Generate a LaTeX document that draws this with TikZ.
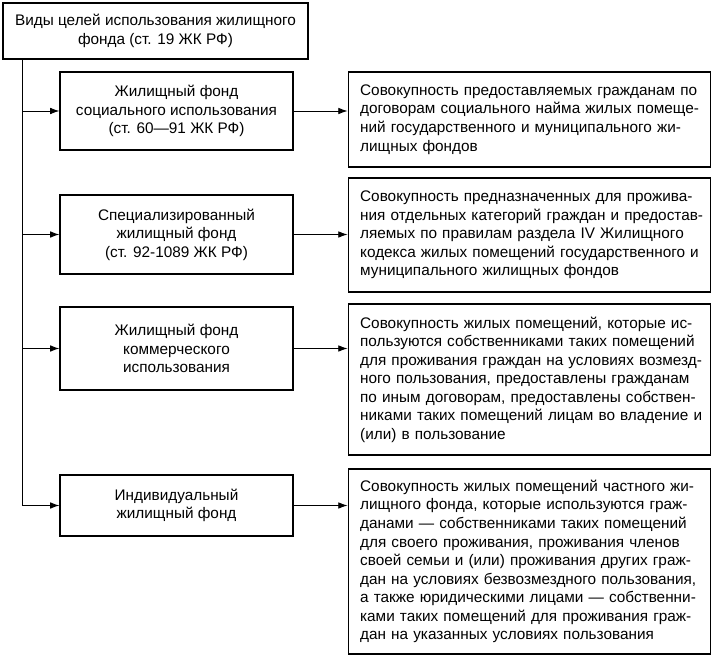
\documentclass[tikz,border=0pt]{standalone}
\usepackage{fontspec}
\setmainfont{Liberation Sans}
\usetikzlibrary{arrows.meta}

\newlength{\dwidth}
\setlength{\dwidth}{254pt}
\newcommand{\jline}[1]{\hbox to \dwidth{#1}}
\newcommand{\eline}[1]{\hbox{#1}}

\begin{document}
\begin{tikzpicture}[x=0.75pt, y=-0.75pt]
			\tikzset {>={Latex[length=7pt,width=5pt]}, every node/.style={font=\fontsize{11.5pt}{13.9pt}\selectfont},
				kind/.style={draw, line width=0.85pt, align=center, inner sep=2pt, minimum width=174.75pt},
				descr/.style={draw, line width=0.85pt, text width=\dwidth, inner xsep=9pt, inner ysep=2pt},
				link/.style={->, line width=0.7pt} }

			\useasboundingbox (0,0) rectangle (715,659);

			\node[kind, minimum width=228.75pt, minimum height=42pt] (root) at (155.5,31) {Виды целей использования жилищного\\фонда (ст. 19 ЖК РФ)};

			\node[kind, minimum height=58.5pt] (social) at (176.5,111) {Жилищный фонд\\социального использования\\(ст. 60—91 ЖК РФ)};
			\node[kind, minimum height=59.25pt] (special) at (176.5,234.5) {Специализированный\\жилищный фонд\\(ст. 92-1089 ЖК РФ)};
			\node[kind, minimum height=62.25pt] (commerce) at (176.5,348.5) {Жилищный фонд\\коммерческого\\использования};
			\node[kind, minimum height=45.75pt] (private) at (176.5,505.5) {Индивидуальный\\жилищный фонд};

			\node[descr, minimum height=71.25pt] (socialD) at (529.5,119.5) {%
				\jline{Совокупность предоставляемых гражданам по}
				\jline{договорам социального найма жилых помеще-}
				\jline{ний государственного и муниципального жи-}
				\eline{лищных фондов}};
			\node[descr, minimum height=85.5pt] (specialD) at (529.5,235) {%
				\jline{Совокупность предназначенных для прожива-}
				\jline{ния отдельных категорий граждан и предостав-}
				\jline{ляемых по правилам раздела IV Жилищного}
				\jline{кодекса жилых помещений государственного и}
				\eline{муниципального жилищных фондов}};
			\node[descr, minimum height=113.25pt] (commerceD) at (529.5,379.5) {%
				\jline{Совокупность жилых помещений, которые ис-}
				\jline{пользуются собственниками таких помещений}
				\jline{для проживания граждан на условиях возмезд-}
				\jline{ного пользования, предоставлены гражданам}
				\jline{по иным договорам, предоставлены собствен-}
				\jline{никами таких помещений лицам во владение и}
				\eline{(или) в пользование}};
			\node[descr, minimum height=138.75pt] (privateD) at (529.5,561.5) {%
				\jline{Совокупность жилых помещений частного жи-}
				\jline{лищного фонда, которые используются граж-}
				\jline{данами — собственниками таких помещений}
				\jline{для своего проживания, проживания членов}
				\jline{своей семьи и (или) проживания других граж-}
				\jline{дан на условиях безвозмездного пользования,}
				\jline{а также юридическими лицами — собственни-}
				\jline{ками таких помещений для проживания граж-}
				\eline{дан на указанных условиях пользования}};

			\coordinate (trunk) at (22,59);

			\draw[link] (trunk) |- (private.west);
			\foreach \f in {social, special, commerce}
				\draw[link] (trunk |- \f.west) -- (\f.west);
			\foreach \f in {social, special, commerce, private}
				\draw[link] (\f.east) -- (\f.east -| \f D.west);
		\end{tikzpicture}
\end{document}
